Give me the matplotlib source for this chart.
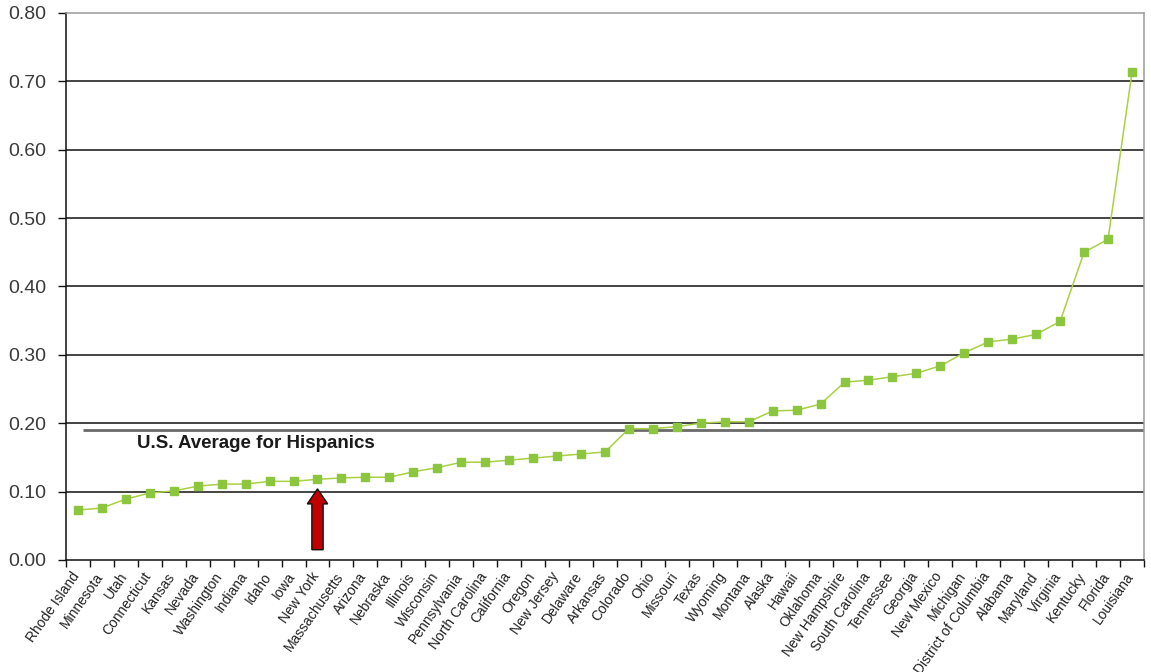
import matplotlib
matplotlib.use("Agg")
import matplotlib.pyplot as plt
from matplotlib.ticker import FixedLocator, FormatStrFormatter
from matplotlib.patches import FancyArrow
from matplotlib.transforms import ScaledTranslation

states = [
    "Rhode Island", "Minnesota", "Utah", "Connecticut", "Kansas", "Nevada",
    "Washington", "Indiana", "Idaho", "Iowa", "New York", "Massachusetts",
    "Arizona", "Nebraska", "Illinois", "Wisconsin", "Pennsylvania",
    "North Carolina", "California", "Oregon", "New Jersey", "Delaware",
    "Arkansas", "Colorado", "Ohio", "Missouri", "Texas", "Wyoming", "Montana",
    "Alaska", "Hawaii", "Oklahoma", "New Hampshire", "South Carolina",
    "Tennessee", "Georgia", "New Mexico", "Michigan", "District of Columbia",
    "Alabama", "Maryland", "Virginia", "Kentucky", "Florida", "Louisiana",
]
values = [
    0.073, 0.076, 0.089, 0.098, 0.101, 0.108,
    0.111, 0.111, 0.115, 0.115, 0.118, 0.120,
    0.121, 0.121, 0.129, 0.135, 0.143,
    0.143, 0.146, 0.149, 0.152, 0.155,
    0.158, 0.192, 0.192, 0.195, 0.200, 0.202, 0.202,
    0.218, 0.219, 0.228, 0.260, 0.263,
    0.268, 0.273, 0.284, 0.303, 0.319,
    0.323, 0.330, 0.349, 0.450, 0.469, 0.713,
]
us_average = 0.19
us_average_label = "U.S. Average for Hispanics"
highlight_state = "New York"
y_ticks = [0.0, 0.1, 0.2, 0.3, 0.4, 0.5, 0.6, 0.7, 0.8]

plt.rcParams["font.family"] = ["Liberation Sans", "DejaVu Sans"]

fig = plt.figure(figsize=(11.51, 6.72), dpi=100)
ax = fig.add_axes([0.0573, 0.1667, 0.9366, 0.814])

n = len(states)
xs = list(range(n))
ax.set_xlim(-0.5, n - 0.5)
ax.set_ylim(0, 0.8)

# horizontal grid lines
for yv in y_ticks[1:-1]:
    ax.axhline(yv, color="#111111", lw=1.1, zorder=1)

# average reference line and its label
ax.plot([0.2, n - 0.5], [us_average, us_average], color="#6a6a6a", lw=2.0,
        zorder=2, solid_capstyle="butt")
ax.text(2.46, us_average - 0.019, us_average_label, fontsize=13.5,
        fontweight="bold", color="#1a1a1a", ha="left", va="center", zorder=3)

# data series
ax.plot(xs, values, color="#a9d046", lw=1.1, marker="s", markersize=6,
        markerfacecolor="#8cc63e", markeredgecolor="#8cc63e", zorder=4)

# arrow under the highlighted state
hx = states.index(highlight_state)
arrow = FancyArrow(hx, 0.015, 0, 0.089, width=0.47, head_width=0.85,
                   head_length=0.022, length_includes_head=True,
                   facecolor="#c00000", edgecolor="#111111", lw=1.0, zorder=5)
ax.add_patch(arrow)

# spines
for side in ("left", "bottom"):
    ax.spines[side].set_color("#111111")
    ax.spines[side].set_linewidth(1.1)
for side in ("top", "right"):
    ax.spines[side].set_color("#9a9a9a")
    ax.spines[side].set_linewidth(1.1)

# y axis
ax.yaxis.set_major_locator(FixedLocator(y_ticks))
ax.yaxis.set_major_formatter(FormatStrFormatter("%.2f"))
ax.tick_params(axis="y", direction="out", length=6, width=1, color="#111111",
               labelsize=14, labelcolor="#3a3a3a", pad=8)

# x axis: labels at category centers, tick marks at boundaries
ax.set_xticks(xs)
ax.set_xticklabels(states, rotation=55, ha="right", rotation_mode="anchor",
                   fontsize=10, color="#222222")
ax.tick_params(axis="x", which="major", length=0, pad=7)
shift = ScaledTranslation(-5 / 72, 0, fig.dpi_scale_trans)
for lbl in ax.get_xticklabels():
    lbl.set_transform(lbl.get_transform() + shift)
ax.xaxis.set_minor_locator(FixedLocator([i - 0.5 for i in range(n + 1)]))
ax.tick_params(axis="x", which="minor", direction="out", length=5, width=1,
               color="#111111")

fig.savefig("out.png", dpi=100, facecolor="white")
